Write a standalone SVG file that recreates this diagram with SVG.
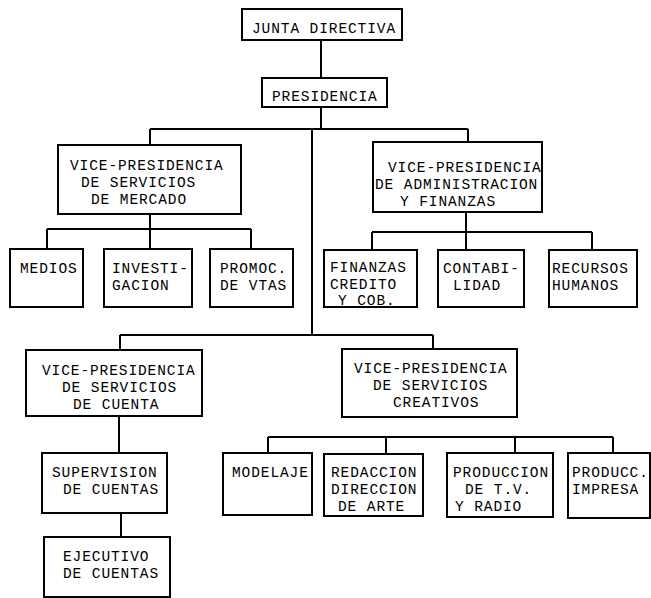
<svg xmlns="http://www.w3.org/2000/svg" width="651" height="598" viewBox="0 0 651 598">
<style>
.box{fill:#fff;stroke:#000;stroke-width:2}
.ln{fill:none;stroke:#000;stroke-width:2}
text{font-family:"Liberation Mono","DejaVu Sans Mono",monospace;font-size:14.5px;letter-spacing:0.9px;fill:#000}
</style>
<rect width="651" height="598" fill="#fff"/>
<g id="connectors">
<path class="ln" d="M321 40V78M321 107V129M150 129H468M150 129V145M468 129V142M312 129V335M120 335H433M120 335V350M433 335V349"/>
<path class="ln" d="M150 214V229M47 229H251M47 229V249M150 229V249M251 229V249"/>
<path class="ln" d="M466 212V232M372 232H592M372 232V250M466 232V250M592 232V250"/>
<path class="ln" d="M119 416V453M121 513V537"/>
<path class="ln" d="M268 437H613M268 437V453M386 437V454M515 437V453M613 437V453"/>
</g>
<g id="junta"><rect class="box" x="242" y="9" width="160" height="31"/><text x="252" y="33">JUNTA DIRECTIVA</text></g>
<g id="presidencia"><rect class="box" x="262" y="78" width="125" height="29"/><text x="272" y="101">PRESIDENCIA</text></g>
<g id="vp-mercado"><rect class="box" x="58" y="145" width="183" height="69"/><text x="70" y="170">VICE-PRESIDENCIA</text><text x="81" y="187">DE SERVICIOS</text><text x="91" y="204">DE MERCADO</text></g>
<g id="vp-admin"><rect class="box" x="373" y="142" width="169" height="70"/><text x="388" y="172">VICE-PRESIDENCIA</text><text x="375" y="189">DE ADMINISTRACION</text><text x="400" y="206">Y FINANZAS</text></g>
<g id="medios"><rect class="box" x="10" y="249" width="73" height="58"/><text x="20" y="273">MEDIOS</text></g>
<g id="investigacion"><rect class="box" x="104" y="249" width="88" height="58"/><text x="112" y="273">INVESTI-</text><text x="112" y="290">GACION</text></g>
<g id="promoc"><rect class="box" x="210" y="249" width="83" height="58"/><text x="220" y="273">PROMOC.</text><text x="220" y="290">DE VTAS</text></g>
<g id="finanzas"><rect class="box" x="324" y="250" width="93" height="57"/><text x="330" y="272">FINANZAS</text><text x="330" y="289">CREDITO</text><text x="338" y="305">Y COB.</text></g>
<g id="contabilidad"><rect class="box" x="438" y="250" width="86" height="57"/><text x="443" y="273">CONTABI-</text><text x="453" y="290">LIDAD</text></g>
<g id="recursos"><rect class="box" x="549" y="250" width="88" height="57"/><text x="552" y="273">RECURSOS</text><text x="552" y="290">HUMANOS</text></g>
<g id="vp-cuenta"><rect class="box" x="26" y="350" width="176" height="66"/><text x="42" y="375">VICE-PRESIDENCIA</text><text x="62" y="392">DE SERVICIOS</text><text x="73" y="409">DE CUENTA</text></g>
<g id="vp-creativos"><rect class="box" x="342" y="349" width="175" height="68"/><text x="354" y="373">VICE-PRESIDENCIA</text><text x="373" y="390">DE SERVICIOS</text><text x="393" y="407">CREATIVOS</text></g>
<g id="supervision"><rect class="box" x="42" y="453" width="125" height="60"/><text x="52" y="477">SUPERVISION</text><text x="63" y="494">DE CUENTAS</text></g>
<g id="ejecutivo"><rect class="box" x="44" y="537" width="126" height="60"/><text x="63" y="561">EJECUTIVO</text><text x="63" y="578">DE CUENTAS</text></g>
<g id="modelaje"><rect class="box" x="223" y="453" width="89" height="62"/><text x="232" y="477">MODELAJE</text></g>
<g id="redaccion"><rect class="box" x="324" y="454" width="99" height="62"/><text x="331" y="477">REDACCION</text><text x="331" y="494">DIRECCION</text><text x="338" y="511">DE ARTE</text></g>
<g id="produccion-tv"><rect class="box" x="447" y="453" width="106" height="64"/><text x="453" y="477">PRODUCCION</text><text x="465" y="494">DE T.V.</text><text x="455" y="511">Y RADIO</text></g>
<g id="produccion-impresa"><rect class="box" x="568" y="453" width="82" height="65"/><text x="572" y="477">PRODUCC.</text><text x="572" y="494">IMPRESA</text></g>
</svg>
